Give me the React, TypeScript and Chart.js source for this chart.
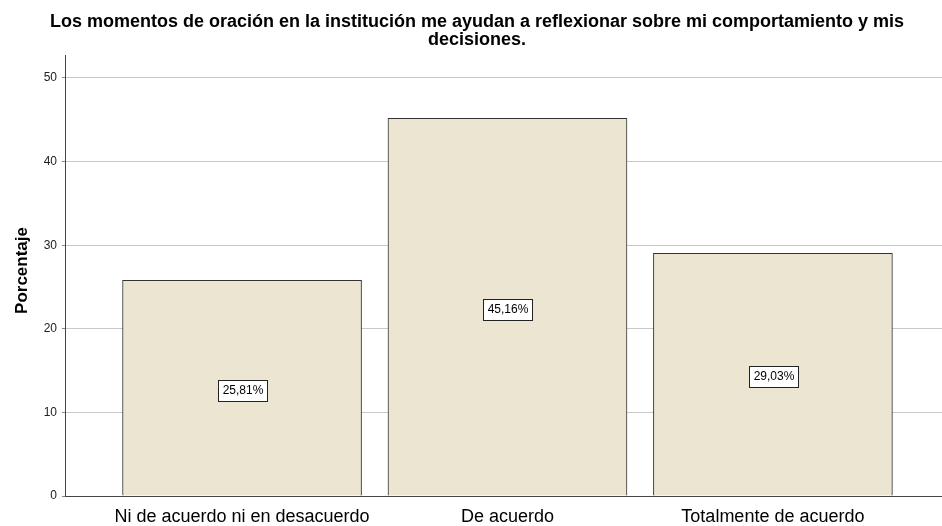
import React, { useEffect, useRef } from "react";
import { Chart, registerables } from "chart.js";

Chart.register(...registerables);

const categories = ["Ni de acuerdo ni en desacuerdo", "De acuerdo", "Totalmente de acuerdo"];
const percentages = [25.81, 45.16, 29.03];
const barLabels = ["25,81%", "45,16%", "29,03%"];
const yTicks = [0, 10, 20, 30, 40, 50];
const titleLines = [
  "Los momentos de oración en la institución me ayudan a reflexionar sobre mi comportamiento y mis",
  "decisiones.",
];
const yTitle = "Porcentaje";

const FONT = "'Liberation Sans', Arial, sans-serif";

const customText = {
  id: "customText",
  afterDraw(chart: any) {
    const ctx = chart.ctx;
    const area = chart.chartArea;
    ctx.save();
    ctx.fillStyle = "#000000";
    ctx.textAlign = "center";
    ctx.textBaseline = "alphabetic";

    // title
    ctx.font = `bold 18px ${FONT}`;
    titleLines.forEach((line, i) => ctx.fillText(line, 477, 27 + i * 18));

    // x category labels
    ctx.font = `18px ${FONT}`;
    const meta = chart.getDatasetMeta(0);
    meta.data.forEach((bar: any, i: number) => {
      ctx.fillText(categories[i], bar.x, area.bottom + 26);
    });

    // y title
    ctx.font = `bold 17px ${FONT}`;
    ctx.save();
    ctx.translate(27, (area.top + area.bottom) / 2 - 5);
    ctx.rotate(-Math.PI / 2);
    ctx.fillText(yTitle, 0, 0);
    ctx.restore();

    ctx.restore();
  },
};

const labelBoxes = {
  id: "labelBoxes",
  afterDatasetsDraw(chart: any) {
    const ctx = chart.ctx;
    const meta = chart.getDatasetMeta(0);
    ctx.save();
    ctx.font = `12px ${FONT}`;
    ctx.textAlign = "center";
    ctx.textBaseline = "middle";
    meta.data.forEach((bar: any, i: number) => {
      const text = barLabels[i];
      const cx = Math.round(bar.x);
      const cy = Math.round((bar.y + bar.base) / 2) + 2;
      const w = Math.round(ctx.measureText(text).width) + 8;
      const h = 21;
      const left = Math.round(cx - w / 2);
      const top = Math.round(cy - h / 2);
      ctx.fillStyle = "#ffffff";
      ctx.fillRect(left, top, w, h);
      ctx.strokeStyle = "#222222";
      ctx.lineWidth = 1;
      ctx.strokeRect(left + 0.5, top + 0.5, w, h);
      ctx.fillStyle = "#000000";
      ctx.fillText(text, cx + 1, cy + 1);
    });
    ctx.restore();
  },
};

export default function App() {
  const ref = useRef<HTMLCanvasElement | null>(null);
  useEffect(() => {
    if (!ref.current) return;
    const chart = new Chart(ref.current, {
      type: "bar",
      data: {
        datasets: [
          {
            data: percentages.map((v, i) => ({ x: i, y: v })),
            backgroundColor: "#ebe5d1",
            borderColor: "#333333",
            borderWidth: 1,
            barThickness: 239,
          },
        ],
      },
      options: {
        animation: false,
        responsive: false,
        maintainAspectRatio: false,
        layout: { padding: { left: 0, right: 0, top: 55, bottom: 0 } },
        plugins: {
          legend: { display: false },
          tooltip: { enabled: false },
          title: { display: false },
        },
        scales: {
          x: {
            type: "linear",
            offset: false,
            min: -0.667,
            max: 2.637,
            afterBuildTicks: (scale: any) => {
              scale.ticks = categories.map((_, i) => ({ value: i }));
            },
            afterFit: (scale: any) => {
              scale.height = 30;
            },
            ticks: { display: false },
            grid: { display: false, drawTicks: false },
            border: { display: true, color: "#444444", width: 1 },
          },
          y: {
            min: 0,
            max: 52.75,
            afterBuildTicks: (scale: any) => {
              scale.ticks = yTicks.map((v) => ({ value: v }));
            },
            afterFit: (scale: any) => {
              scale.width = 65;
            },
            ticks: {
              color: "#222222",
              padding: 5,
              font: { family: FONT, size: 12 },
            },
            grid: { color: "#c8c8c8", tickLength: 3, tickColor: "#888888" },
            border: { display: true, color: "#444444", width: 1 },
            title: { display: false },
          },
        },
      },
      plugins: [labelBoxes, customText],
    });
    return () => chart.destroy();
  }, []);
  return (
    <div style={{ position: "absolute", left: 0, top: 0, width: 942, height: 526, background: "#ffffff" }}>
      <canvas ref={ref} width={942} height={526} style={{ width: 942, height: 526 }} />
    </div>
  );
}
